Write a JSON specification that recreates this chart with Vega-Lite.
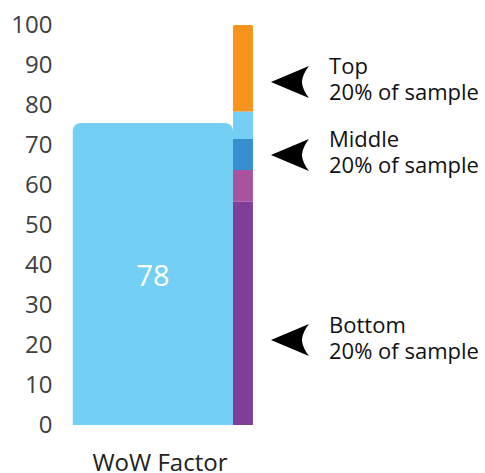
{
  "$schema": "https://vega.github.io/schema/vega-lite/v6.json",
  "width": 425,
  "height": 400,
  "autosize": {"type": "none"},
  "padding": {"left": 60, "top": 25, "right": 0, "bottom": 48},
  "background": "white",
  "config": {
    "view": {"stroke": null},
    "font": "Open Sans",
    "axis": {"labelFont": "Open Sans", "labelOverlap": false, "ticks": false, "domain": false, "grid": false, "title": null},
    "axisY": {"labelOverlap": false, "labelFontSize": 24, "labelColor": "#404040", "labelPadding": 8, "tickCount": 11},
    "axisX": {"labelFontSize": 24, "labelColor": "#222222", "labelPadding": 26, "labelFlush": false}
  },
  "datasets": {
    "main": [{"name": "WoW Factor", "x": 3.0, "x2": 40.7, "y": 0, "y2": 75.5, "label": "78", "ly": 37, "lx": 21.9}],
    "segments": [
      {"segment": "Bottom", "x": 40.7, "x2": 45.4, "y": 0, "y2": 55.8},
      {"segment": "Lower middle", "x": 40.7, "x2": 45.4, "y": 55.8, "y2": 63.75},
      {"segment": "Middle", "x": 40.7, "x2": 45.4, "y": 63.75, "y2": 71.5},
      {"segment": "Upper middle", "x": 40.7, "x2": 45.4, "y": 71.5, "y2": 78.4},
      {"segment": "Top", "x": 40.7, "x2": 45.4, "y": 78.4, "y2": 100}
    ],
    "notes": [
      {"note": "Top\n20% of sample", "ax": 54.1, "ay": 85.75, "tx": 63.3, "ty": 89.5},
      {"note": "Middle\n20% of sample", "ax": 54.1, "ay": 67.5, "tx": 63.3, "ty": 71.2},
      {"note": "Bottom\n20% of sample", "ax": 54.1, "ay": 21.25, "tx": 63.3, "ty": 24.8}
    ]
  },
  "layer": [
    {
      "data": {"name": "main"},
      "mark": {"type": "bar", "color": "#73CFF4", "cornerRadiusTopLeft": 8, "cornerRadiusTopRight": 8},
      "encoding": {
        "x": {"field": "x", "type": "quantitative", "scale": {"domain": [0, 100], "nice": false, "zero": false},
          "axis": {"values": [23.4], "labelExpr": "'WoW Factor'", "labelOverlap": false}},
        "x2": {"field": "x2"},
        "y": {"field": "y", "type": "quantitative", "scale": {"domain": [0, 100], "nice": false},
          "axis": {"values": [0, 10, 20, 30, 40, 50, 60, 70, 80, 90, 100], "labelOverlap": false}},
        "y2": {"field": "y2"}
      }
    },
    {
      "data": {"name": "main"},
      "mark": {"type": "text", "color": "white", "fontSize": 29, "align": "center", "baseline": "middle"},
      "encoding": {
        "x": {"field": "lx", "type": "quantitative", "axis": {"values": [23.4], "labelExpr": "'WoW Factor'", "labelOverlap": false}},
        "y": {"field": "ly", "type": "quantitative", "axis": {"values": [0, 10, 20, 30, 40, 50, 60, 70, 80, 90, 100], "labelOverlap": false}},
        "text": {"field": "label"}
      }
    },
    {
      "data": {"name": "segments"},
      "transform": [{"filter": "datum.segment !== 'Top'"}],
      "mark": {"type": "bar"},
      "encoding": {
        "x": {"field": "x", "type": "quantitative", "axis": {"values": [23.4], "labelExpr": "'WoW Factor'", "labelOverlap": false}},
        "x2": {"field": "x2"},
        "y": {"field": "y", "type": "quantitative", "axis": {"values": [0, 10, 20, 30, 40, 50, 60, 70, 80, 90, 100], "labelOverlap": false}},
        "y2": {"field": "y2"},
        "color": {"field": "segment", "type": "nominal", "legend": null,
          "scale": {"domain": ["Bottom", "Lower middle", "Middle", "Upper middle", "Top"],
            "range": ["#7F3F98", "#A9529D", "#3690CF", "#73CFF4", "#F7941D"]}}
      }
    },
    {
      "data": {"name": "segments"},
      "transform": [{"filter": "datum.segment === 'Top'"}],
      "mark": {"type": "bar", "cornerRadiusTopLeft": 2, "cornerRadiusTopRight": 2},
      "encoding": {
        "x": {"field": "x", "type": "quantitative", "axis": {"values": [23.4], "labelExpr": "'WoW Factor'", "labelOverlap": false}},
        "x2": {"field": "x2"},
        "y": {"field": "y", "type": "quantitative", "axis": {"values": [0, 10, 20, 30, 40, 50, 60, 70, 80, 90, 100], "labelOverlap": false}},
        "y2": {"field": "y2"},
        "color": {"field": "segment", "type": "nominal", "legend": null}
      }
    },
    {
      "data": {"name": "notes"},
      "mark": {"type": "point", "filled": true, "color": "black", "opacity": 1, "size": 1444,
        "shape": "M -1 0 L 1 -0.84 Q 0.66 -0.4 0.63 0 Q 0.66 0.4 1 0.84 Z"},
      "encoding": {
        "x": {"field": "ax", "type": "quantitative", "axis": {"values": [23.4], "labelExpr": "'WoW Factor'", "labelOverlap": false}},
        "y": {"field": "ay", "type": "quantitative", "axis": {"values": [0, 10, 20, 30, 40, 50, 60, 70, 80, 90, 100], "labelOverlap": false}}
      }
    },
    {
      "data": {"name": "notes"},
      "mark": {"type": "text", "align": "left", "baseline": "middle", "fontSize": 22, "lineHeight": 26, "color": "#111111", "lineBreak": "\n"},
      "encoding": {
        "x": {"field": "tx", "type": "quantitative", "axis": {"values": [23.4], "labelExpr": "'WoW Factor'", "labelOverlap": false}},
        "y": {"field": "ty", "type": "quantitative", "axis": {"values": [0, 10, 20, 30, 40, 50, 60, 70, 80, 90, 100], "labelOverlap": false}},
        "text": {"field": "note"}
      }
    }
  ]
}
